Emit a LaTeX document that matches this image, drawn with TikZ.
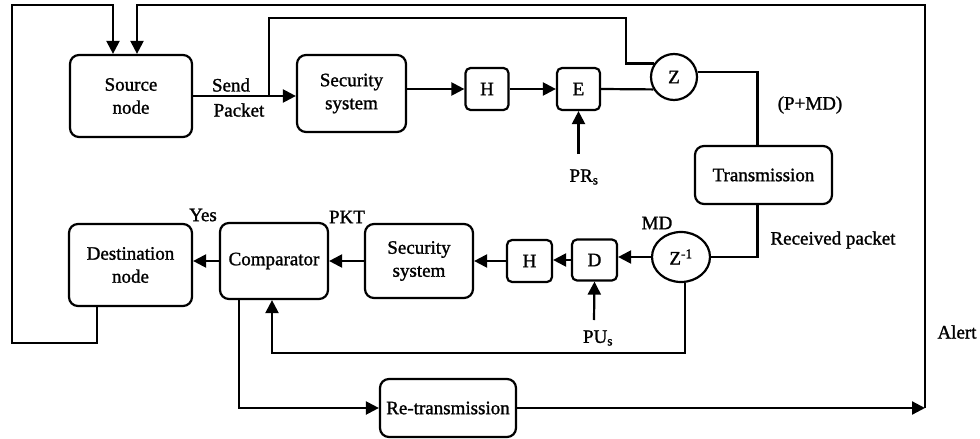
\documentclass[tikz,border=0pt]{standalone}
\usepackage{fontspec}
\setmainfont{Liberation Serif}[BoldFont=Liberation Serif, BoldFeatures={FakeBold=1.3}]
\usetikzlibrary{arrows.meta,shapes.geometric}
\begin{document}
\begin{tikzpicture}[x=1pt,y=-1pt,
  font=\fontsize{19}{23}\selectfont\bfseries,
  box/.style={draw, line width=2.2pt, rounded corners=9pt, align=center, inner sep=0pt},
  sbox/.style={draw, line width=2.2pt, rounded corners=5pt, inner sep=0pt, minimum width=43pt, minimum height=42pt},
  ln/.style={line width=2.2pt},
  arr/.style={ln, -{Triangle[length=13pt,width=13pt]}},
  lbl/.style={inner sep=0pt}]
\useasboundingbox (0,0) rectangle (980,439);

% top row
\node[box, minimum width=122pt, minimum height=82pt] (src) at (131,96) {Source\\node};
\node[box, minimum width=109pt, minimum height=77pt] (sec1) at (351.5,93.5) {Security\\system};
\node[sbox] (h1) at (487,89) {H};
\node[sbox] (e1) at (578.5,89) {E};
\node[draw, line width=2.2pt, circle, minimum size=46pt, inner sep=0pt] (z) at (674,77) {Z};
\node[box, minimum width=137pt, minimum height=58pt] (tr) at (763.5,175) {Transmission};

% bottom row
\node[draw, line width=2.2pt, ellipse, minimum width=58pt, minimum height=50pt, inner sep=0pt] (zi) at (681,257) {Z\textsuperscript{-1}};
\node[sbox, minimum width=45pt, minimum height=41pt] (d) at (594.5,260) {D};
\node[sbox, minimum width=45pt, minimum height=42pt] (h2) at (529.5,261) {H};
\node[box, minimum width=108pt, minimum height=74pt] (sec2) at (419,261) {Security\\system};
\node[box, minimum width=108pt, minimum height=76pt] (cmp) at (274,261) {Comparator};
\node[box, minimum width=123pt, minimum height=82pt] (dst) at (130.5,265) {Destination\\node};
\node[box, minimum width=136pt, minimum height=58pt] (rt) at (448,408) {Re-transmission};

% labels
\node[lbl] (lsend) at (231,85) {Send};
\node[lbl] (lpacket) at (239,110) {Packet};
\node[lbl] (lpmd) at (810,105) {(P+MD)};
\node[lbl] (lpr) at (584,177) {PR\textsubscript{s}};
\node[lbl] (lmd) at (657,223) {MD};
\node[lbl] (lrec) at (833,240) {Received packet};
\node[lbl] (lpu) at (598,338) {PU\textsubscript{s}};
\node[lbl] (lyes) at (203,215) {Yes};
\node[lbl] (lpkt) at (347,217) {PKT};
\node[lbl] (lalert) at (957,332) {Alert};

% coordinates
\coordinate (br) at (269,96);
\coordinate (k1) at (626,18);
\coordinate (k2) at (272,353);
\coordinate (k3) at (239,408);
\coordinate (al) at (925,408);
\coordinate (k4) at (137,5);
\coordinate (fb1) at (97,343);
\coordinate (fb2) at (12,343);
\coordinate (fb3) at (12,5);
\coordinate (fb4) at (113,5);
\coordinate (prs) at (578.5,154);
\coordinate (pus) at (594,320);

% connectors top
\draw[arr] (src.east) -- (src.east -| sec1.west);
\draw[ln] (br) |- (k1) |- (z.146);
\draw[arr] (sec1.east |- h1.west) -- (h1.west);
\draw[arr] (h1.east) -- (e1.west);
\draw[ln] (e1.east) -- (z.211);
\draw[ln] (z.12) -| ([xshift=-6pt]tr.north);
\draw[arr] (prs) -- (e1.south);

% connectors bottom
\draw[ln] ([xshift=-6pt]tr.south) |- (zi.east);
\draw[arr] (zi.west) -- (zi.west -| d.east);
\draw[arr] (d.west) -- (d.west -| h2.east);
\draw[arr] (h2.west) -- (h2.west -| sec2.east);
\draw[arr] (sec2.west) -- (sec2.west -| cmp.east);
\draw[arr] (cmp.west) -- (cmp.west -| dst.east);
\draw[arr] (pus) -- (d.south);
\draw[arr] ([xshift=4pt]zi.south) |- (k2) -- (k2 |- cmp.south);
\draw[arr] (k3 |- cmp.south) -- (k3) -- (rt.west);
\draw[arr] (rt.east) -- (al);
\draw[arr] (al) |- (k4) -- (k4 |- src.north);
\draw[arr] (fb1 |- dst.south) -- (fb1) -- (fb2) -- (fb3) -- (fb4) -- (fb4 |- src.north);
\end{tikzpicture}
\end{document}
